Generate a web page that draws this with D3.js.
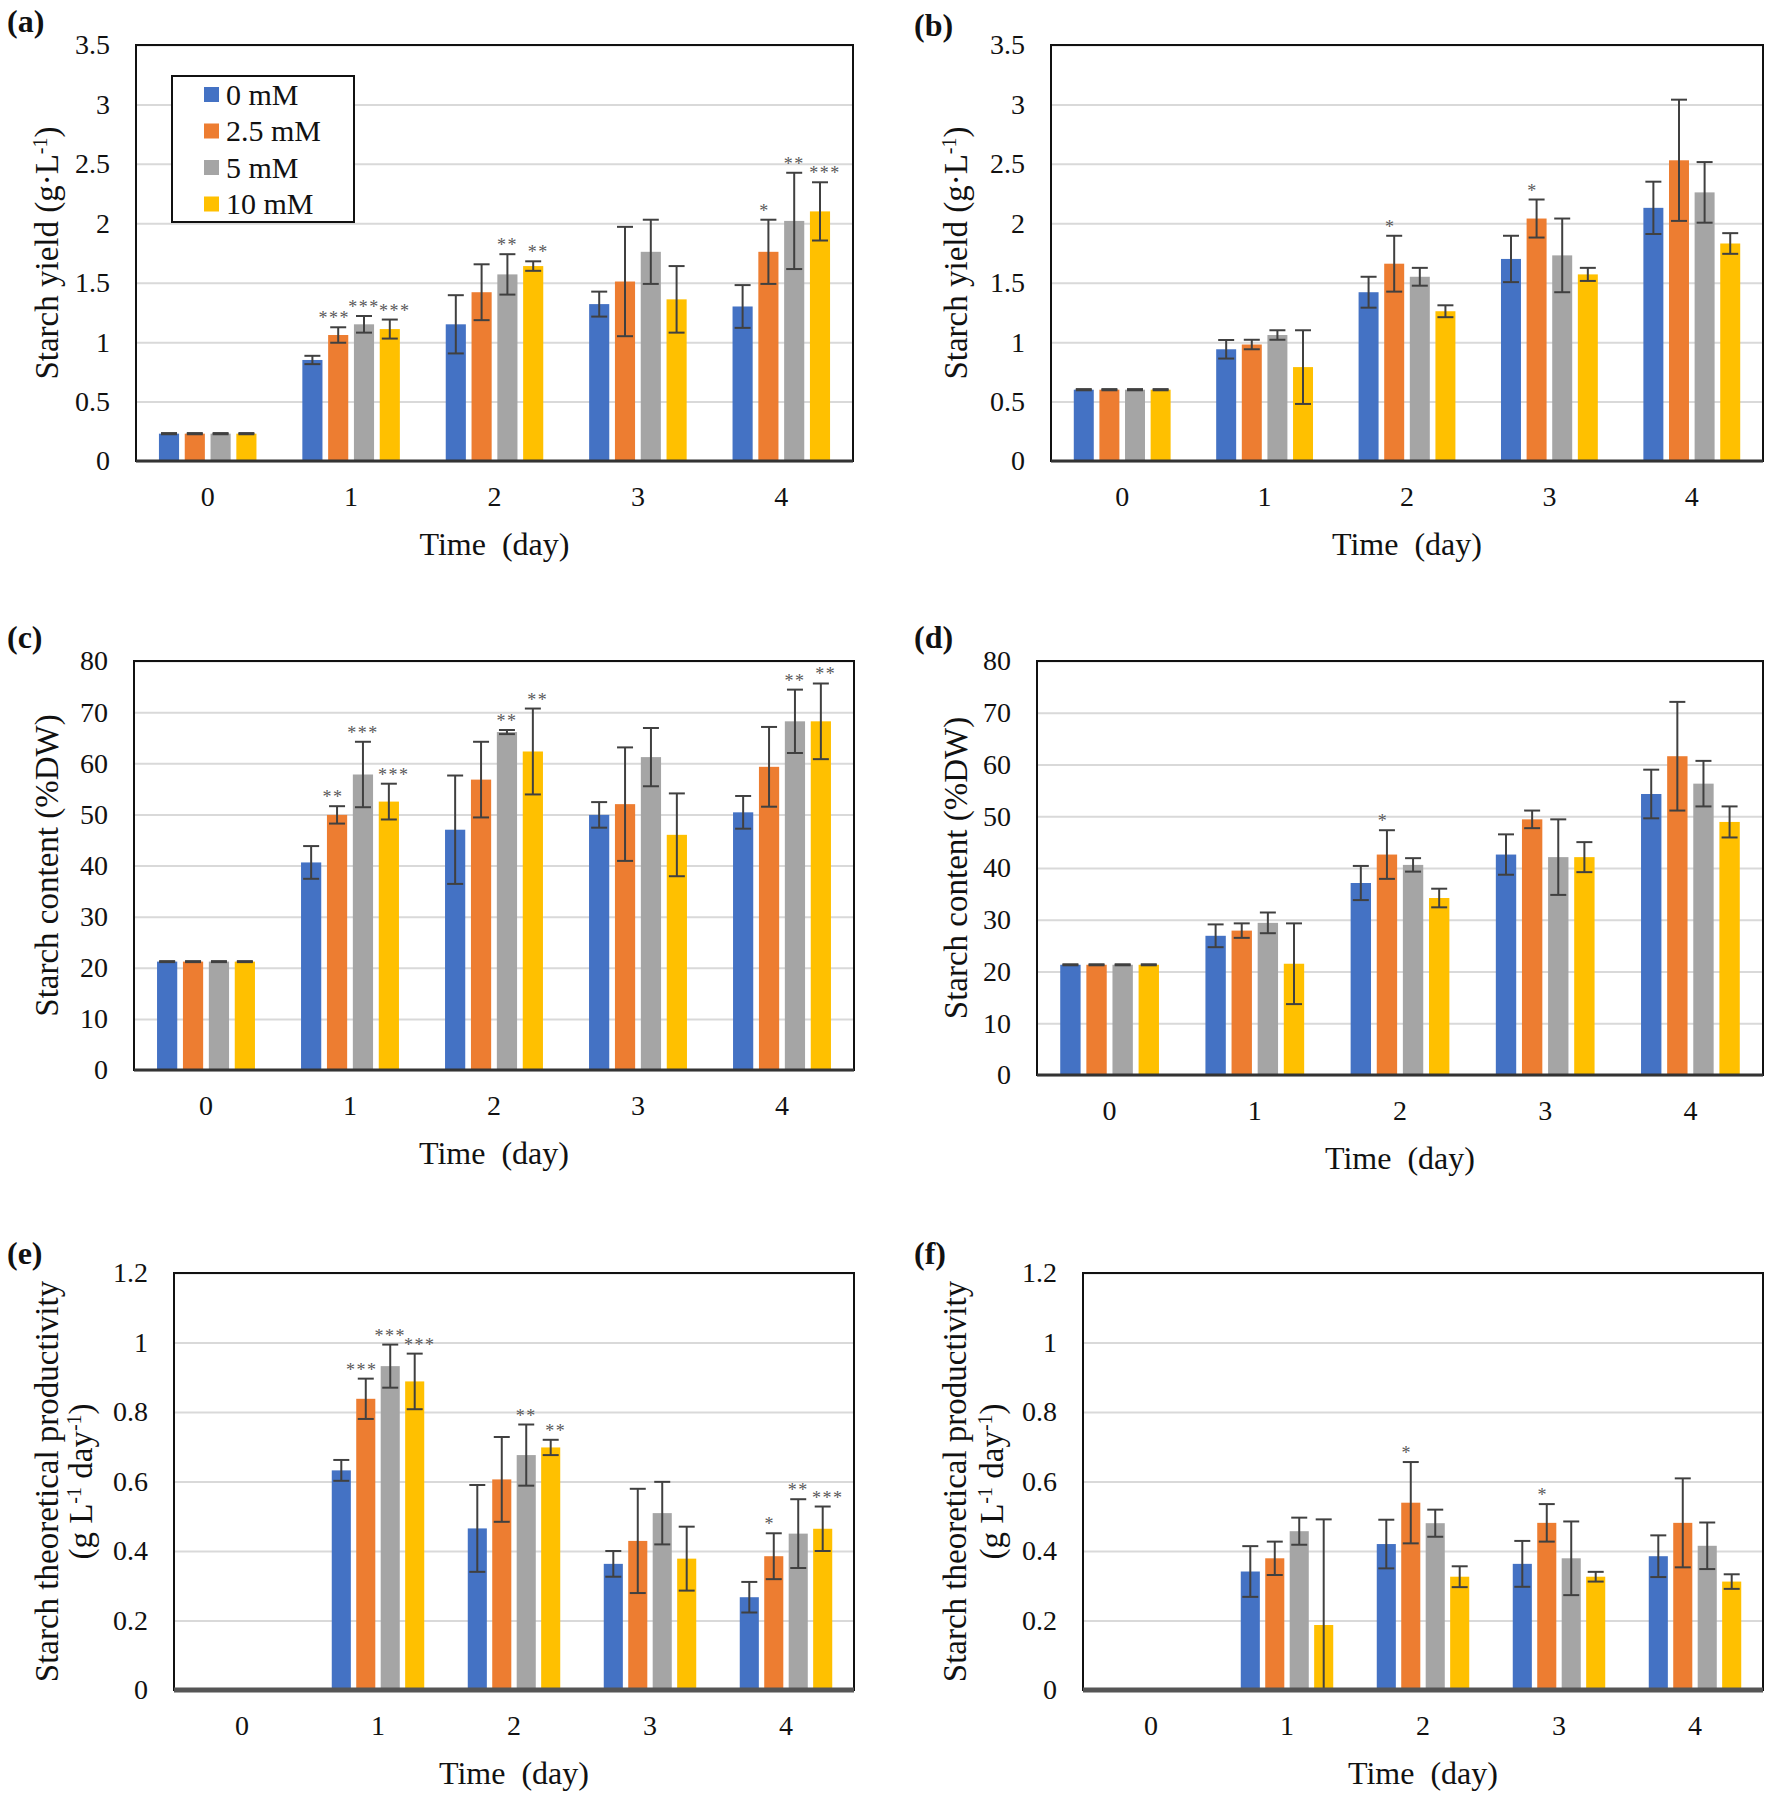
<!DOCTYPE html>
<html>
<head>
<meta charset="utf-8">
<script src="https://cdn.jsdelivr.net/npm/d3@7"></script>
<style>
  html, body { margin: 0; padding: 0; background: #fff; }
  svg { display: block; }
  text { font-family: "Liberation Serif", "Times New Roman", serif; }
</style>
</head>
<body>
<svg id="chart" width="1770" height="1795"></svg>
<script>
// ---------- shared categories ----------
const days = ["0", "1", "2", "3", "4"];
const seriesNames = ["0 mM", "2.5 mM", "5 mM", "10 mM"];
const seriesColors = ["#4472C4", "#ED7D31", "#A5A5A5", "#FFC000"];

// ---------- (a) starch yield, left ----------
const aValues = [
  [0.23, 0.85, 1.15, 1.32, 1.30],
  [0.23, 1.06, 1.42, 1.51, 1.76],
  [0.23, 1.15, 1.57, 1.76, 2.02],
  [0.23, 1.11, 1.64, 1.36, 2.10]
];
const aErrors = [
  [0.005, 0.035, 0.245, 0.105, 0.18],
  [0.005, 0.065, 0.235, 0.46, 0.27],
  [0.005, 0.07, 0.17, 0.27, 0.405],
  [0.005, 0.08, 0.04, 0.28, 0.245]
];
const aStars = [
  ["", "", "", "", ""],
  ["", "***", "", "", "*"],
  ["", "***", "**", "", "**"],
  ["", "***", "**", "", "***"]
];
const aTicks = [0, 0.5, 1, 1.5, 2, 2.5, 3, 3.5];

// ---------- (b) starch yield, right ----------
const bValues = [
  [0.60, 0.94, 1.42, 1.70, 2.13],
  [0.60, 0.98, 1.66, 2.04, 2.53],
  [0.60, 1.06, 1.55, 1.73, 2.26],
  [0.60, 0.79, 1.26, 1.57, 1.83]
];
const bErrors = [
  [0.005, 0.078, 0.13, 0.195, 0.22],
  [0.005, 0.04, 0.235, 0.16, 0.51],
  [0.005, 0.04, 0.075, 0.31, 0.255],
  [0.005, 0.31, 0.05, 0.055, 0.087]
];
const bStars = [
  ["", "", "", "", ""],
  ["", "", "*", "*", ""],
  ["", "", "", "", ""],
  ["", "", "", "", ""]
];
const bTicks = [0, 0.5, 1, 1.5, 2, 2.5, 3, 3.5];

// ---------- (c) starch content, left ----------
const cValues = [
  [21.2, 40.6, 47.0, 49.9, 50.4],
  [21.2, 49.9, 56.8, 52.0, 59.3],
  [21.2, 57.8, 66.1, 61.2, 68.2],
  [21.2, 52.5, 62.3, 46.0, 68.2]
];
const cErrors = [
  [0.1, 3.2, 10.6, 2.5, 3.2],
  [0.1, 1.7, 7.4, 11.1, 7.8],
  [0.1, 6.4, 0.4, 5.7, 6.2],
  [0.1, 3.5, 8.4, 8.1, 7.4]
];
const cStars = [
  ["", "", "", "", ""],
  ["", "**", "", "", ""],
  ["", "***", "**", "", "**"],
  ["", "***", "**", "", "**"]
];
const cTicks = [0, 10, 20, 30, 40, 50, 60, 70, 80];

// ---------- (d) starch content, right ----------
const dValues = [
  [21.3, 26.9, 37.1, 42.6, 54.3],
  [21.3, 27.9, 42.6, 49.4, 61.6],
  [21.3, 29.4, 40.6, 42.1, 56.3],
  [21.3, 21.5, 34.2, 42.1, 48.9]
];
const dErrors = [
  [0.1, 2.2, 3.3, 3.9, 4.7],
  [0.1, 1.4, 4.7, 1.7, 10.5],
  [0.1, 2.0, 1.3, 7.3, 4.4],
  [0.1, 7.8, 1.8, 2.9, 3.0]
];
const dStars = [
  ["", "", "", "", ""],
  ["", "", "*", "", ""],
  ["", "", "", "", ""],
  ["", "", "", "", ""]
];
const dTicks = [0, 10, 20, 30, 40, 50, 60, 70, 80];

// ---------- (e) productivity, left ----------
const eValues = [
  [0, 0.632, 0.465, 0.363, 0.267],
  [0, 0.838, 0.606, 0.429, 0.385],
  [0, 0.932, 0.676, 0.509, 0.450],
  [0, 0.888, 0.698, 0.378, 0.464]
];
const eErrors = [
  [0, 0.03, 0.125, 0.037, 0.044],
  [0, 0.058, 0.122, 0.15, 0.066],
  [0, 0.062, 0.088, 0.09, 0.099],
  [0, 0.08, 0.022, 0.092, 0.064]
];
const eStars = [
  ["", "", "", "", ""],
  ["", "***", "", "", "*"],
  ["", "***", "**", "", "**"],
  ["", "***", "**", "", "***"]
];
const eTicks = [0, 0.2, 0.4, 0.6, 0.8, 1, 1.2];

// ---------- (f) productivity, right ----------
const fValues = [
  [0, 0.341, 0.420, 0.363, 0.385],
  [0, 0.379, 0.539, 0.481, 0.481],
  [0, 0.457, 0.480, 0.379, 0.415],
  [0, 0.187, 0.326, 0.326, 0.312]
];
const fErrors = [
  [0, 0.073, 0.07, 0.066, 0.06],
  [0, 0.048, 0.117, 0.054, 0.128],
  [0, 0.039, 0.039, 0.106, 0.067],
  [0, 0.304, 0.03, 0.014, 0.021]
];
const fStars = [
  ["", "", "", "", ""],
  ["", "", "*", "*", ""],
  ["", "", "", "", ""],
  ["", "", "", "", ""]
];
const fTicks = [0, 0.2, 0.4, 0.6, 0.8, 1, 1.2];

// ---------- text ----------
const xTitle = "Time  (day)";
const yieldTitle = [[["Starch yield (g·L", ""], ["-1", "sup"], [")", ""]]];
const contentTitle = [[["Starch content (%DW)", ""]]];
const prodTitle = [
  [["Starch theoretical productivity", ""]],
  [["(g L", ""], ["-1", "sup"], [" day", ""], ["-1", "sup"], [")", ""]]
];

// ---------- drawing ----------
const svg = d3.select("#chart");
const FONT_TICK = 28;
const FONT_XTITLE = 32;
const FONT_YTITLE = 33;
const starDx = [0, -4, 0, 5];

function drawPanel(p) {
  const g = svg.append("g");
  const y = d3.scaleLinear().domain([0, p.ticks[p.ticks.length - 1]]).range([p.B, p.T]);
  const x0 = d3.scaleBand().domain(days).range([p.L, p.R]).padding(0);
  const bw = x0.bandwidth();
  const x1 = d3.scaleBand().domain(d3.range(seriesNames.length))
    .range([bw * 0.16, bw * 0.84]).paddingInner(0.22).paddingOuter(0);

  // gridlines
  g.append("g").attr("transform", `translate(${p.L},0)`)
    .call(d3.axisLeft(y).tickValues(p.ticks).tickSize(-(p.R - p.L)).tickFormat(""))
    .call(a => a.select(".domain").remove())
    .call(a => a.selectAll("line").attr("stroke", "#d9d9d9").attr("stroke-width", 2));

  // bars
  const flat = [];
  p.values.forEach((ser, si) => ser.forEach((v, di) => {
    flat.push({ si, di, v, e: p.errors[si][di], s: p.stars[si][di] });
  }));
  g.append("g").selectAll("rect").data(flat.filter(d => d.v > 0)).join("rect")
    .attr("x", d => x0(days[d.di]) + x1(d.si))
    .attr("width", x1.bandwidth())
    .attr("y", d => y(d.v))
    .attr("height", d => y(0) - y(d.v))
    .attr("fill", d => seriesColors[d.si]);

  // error bars
  const eb = g.append("g").attr("stroke", "#404040").attr("stroke-width", 2).attr("fill", "none");
  const cap = 8;
  flat.filter(d => d.v > 0).forEach(d => {
    const cx = x0(days[d.di]) + x1(d.si) + x1.bandwidth() / 2;
    const hi = y(d.v + d.e);
    const lo = y(Math.max(0, d.v - d.e));
    eb.append("line").attr("x1", cx).attr("x2", cx).attr("y1", hi).attr("y2", lo);
    eb.append("line").attr("x1", cx - cap).attr("x2", cx + cap).attr("y1", hi).attr("y2", hi);
    if (d.v - d.e > 0) eb.append("line").attr("x1", cx - cap).attr("x2", cx + cap).attr("y1", lo).attr("y2", lo);
  });

  // significance stars
  g.append("g").selectAll("text").data(flat.filter(d => d.s)).join("text")
    .attr("x", d => x0(days[d.di]) + x1(d.si) + x1.bandwidth() / 2 + starDx[d.si])
    .attr("y", d => y(d.v + d.e) - 3)
    .attr("text-anchor", "middle")
    .attr("font-size", 18)
    .attr("letter-spacing", 1.5)
    .attr("fill", "#595959")
    .text(d => d.s);

  // frame
  g.append("rect").attr("x", p.L).attr("y", p.T).attr("width", p.R - p.L).attr("height", p.B - p.T)
    .attr("fill", "none").attr("stroke", "#111").attr("stroke-width", 2);
  g.append("line").attr("x1", p.L).attr("x2", p.R).attr("y1", p.B).attr("y2", p.B)
    .attr("stroke", p.thickBase ? "#555" : "#333").attr("stroke-width", p.thickBase ? 5 : 3);

  // y tick labels
  g.append("g").attr("transform", `translate(${p.L - 26},0)`)
    .call(d3.axisLeft(y).tickValues(p.ticks).tickSize(0).tickPadding(0)
      .tickFormat(d => String(+d.toFixed(2))))
    .call(a => a.select(".domain").remove())
    .call(a => a.selectAll("text").attr("font-size", FONT_TICK)
      .attr("font-family", "Liberation Serif, serif").attr("fill", "#111"));

  // x tick labels
  g.append("g").attr("transform", `translate(0,${p.B + 35})`)
    .call(d3.axisBottom(x0).tickSize(0).tickPadding(0))
    .call(a => a.select(".domain").remove())
    .call(a => a.selectAll("text").attr("font-size", FONT_TICK).attr("dy", "0.35em")
      .attr("font-family", "Liberation Serif, serif").attr("fill", "#111"));

  // x title
  g.append("text").attr("x", (p.L + p.R) / 2).attr("y", p.B + 83).attr("dy", "0.35em")
    .attr("text-anchor", "middle").attr("font-size", FONT_XTITLE).attr("fill", "#111")
    .style("white-space", "pre").text(xTitle);

  // y title (rotated, one or two lines)
  const cy = (p.T + p.B) / 2;
  p.title.forEach((line, li) => {
    const t = g.append("text")
      .attr("transform", `translate(${p.titleX[li]},${cy}) rotate(-90)`)
      .attr("text-anchor", "middle").attr("dy", "0.35em")
      .attr("font-size", FONT_YTITLE).attr("fill", "#111");
    line.forEach(([str, kind]) => {
      const ts = t.append("tspan").style("white-space", "pre").text(str);
      if (kind === "sup") ts.attr("font-size", 20).attr("baseline-shift", "super");
    });
  });

  // panel letter
  g.append("text").attr("x", p.letterX).attr("y", p.letterY)
    .attr("font-size", 32).attr("font-weight", "bold").attr("fill", "#111").text(p.letter);

  // legend
  if (p.legend) {
    const lg = g.append("g");
    lg.append("rect").attr("x", 172).attr("y", 76).attr("width", 182).attr("height", 146)
      .attr("fill", "#fff").attr("stroke", "#111").attr("stroke-width", 2);
    seriesNames.forEach((name, i) => {
      const yy = 94 + i * 36.5;
      lg.append("rect").attr("x", 204).attr("y", yy - 7).attr("width", 15).attr("height", 15)
        .attr("fill", seriesColors[i]);
      lg.append("text").attr("x", 226).attr("y", yy).attr("dy", "0.35em")
        .attr("font-size", 30).attr("fill", "#111").text(name);
    });
  }
}

const panels = [
  { letter: "(a)", letterX: 7, letterY: 32, L: 136, R: 853, T: 45, B: 461, ticks: aTicks,
    values: aValues, errors: aErrors, stars: aStars, title: yieldTitle, titleX: [46], legend: true },
  { letter: "(b)", letterX: 914, letterY: 36, L: 1051, R: 1763, T: 45, B: 461, ticks: bTicks,
    values: bValues, errors: bErrors, stars: bStars, title: yieldTitle, titleX: [955] },
  { letter: "(c)", letterX: 7, letterY: 648, L: 134, R: 854, T: 661, B: 1070, ticks: cTicks,
    values: cValues, errors: cErrors, stars: cStars, title: contentTitle, titleX: [46] },
  { letter: "(d)", letterX: 914, letterY: 648, L: 1037, R: 1763, T: 661, B: 1075, ticks: dTicks,
    values: dValues, errors: dErrors, stars: dStars, title: contentTitle, titleX: [955] },
  { letter: "(e)", letterX: 7, letterY: 1264, L: 174, R: 854, T: 1273, B: 1690, ticks: eTicks,
    values: eValues, errors: eErrors, stars: eStars, title: prodTitle, titleX: [46, 80], thickBase: true },
  { letter: "(f)", letterX: 914, letterY: 1264, L: 1083, R: 1763, T: 1273, B: 1690, ticks: fTicks,
    values: fValues, errors: fErrors, stars: fStars, title: prodTitle, titleX: [954, 991], thickBase: true }
];
panels.forEach(drawPanel);
</script>
</body>
</html>
